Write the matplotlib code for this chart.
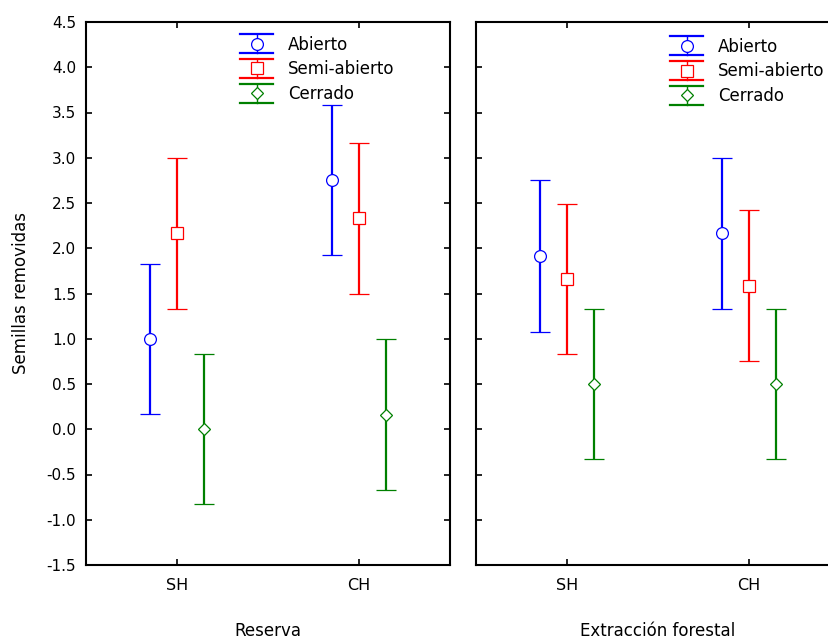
import matplotlib
matplotlib.use("Agg")
import matplotlib.pyplot as plt
from matplotlib.lines import Line2D
from matplotlib.legend_handler import HandlerBase

plt.rcParams['font.family'] = ['DejaVu Sans']

categories = ["SH", "CH"]
groups = ["Abierto", "Semi-abierto", "Cerrado"]
panels = ["Reserva", "Extracción forestal"]

# means and CI limits, per panel, per group, [SH, CH]
means = {
    "Reserva": {"Abierto": [1.0, 2.75], "Semi-abierto": [2.17, 2.33], "Cerrado": [0.0, 0.16]},
    "Extracción forestal": {"Abierto": [1.91, 2.17], "Semi-abierto": [1.66, 1.58], "Cerrado": [0.5, 0.5]},
}
lower = {
    "Reserva": {"Abierto": [0.17, 1.92], "Semi-abierto": [1.33, 1.5], "Cerrado": [-0.83, -0.67]},
    "Extracción forestal": {"Abierto": [1.08, 1.33], "Semi-abierto": [0.83, 0.75], "Cerrado": [-0.33, -0.33]},
}
upper = {
    "Reserva": {"Abierto": [1.83, 3.58], "Semi-abierto": [3.0, 3.16], "Cerrado": [0.83, 1.0]},
    "Extracción forestal": {"Abierto": [2.75, 3.0], "Semi-abierto": [2.49, 2.42], "Cerrado": [1.33, 1.33]},
}
yticks = [-1.5, -1.0, -0.5, 0.0, 0.5, 1.0, 1.5, 2.0, 2.5, 3.0, 3.5, 4.0, 4.5]

colors = {"Abierto": "#0000ff", "Semi-abierto": "#ff0000", "Cerrado": "#008000"}
markers = {"Abierto": "o", "Semi-abierto": "s", "Cerrado": "D"}
msizes = {"Abierto": 8.5, "Semi-abierto": 8.0, "Cerrado": 6.5}
offsets = {"Abierto": -0.15, "Semi-abierto": 0.0, "Cerrado": 0.15}


class ErrHandler(HandlerBase):
    # legend entry: wide caps, thin stem, open marker
    def create_artists(self, legend, orig_handle, xdescent, ydescent,
                       width, height, fontsize, trans):
        c = orig_handle.get_color()
        cy = height / 2 - ydescent
        x0 = -xdescent
        x1 = x0 + width
        xc = (x0 + x1) / 2
        half = 6.8
        arts = [
            Line2D([x0, x1], [cy + half, cy + half], color=c, lw=1.6),
            Line2D([x0, x1], [cy - half, cy - half], color=c, lw=1.6),
            Line2D([xc, xc], [cy - half, cy + half], color=c, lw=1.0),
            Line2D([xc], [cy], marker=orig_handle.get_marker(), ls='none',
                   ms=orig_handle.get_markersize(), mfc='white', mec=c, mew=0.9),
        ]
        for a in arts:
            a.set_transform(trans)
        return arts


fig = plt.figure(figsize=(8.29, 6.41), dpi=100)
ax1 = fig.add_axes([86 / 829, 76 / 641, 364 / 829, 543 / 641])
ax2 = fig.add_axes([476 / 829, 76 / 641, 364 / 829, 543 / 641])

xpos = [0, 1]
for ax, panel in zip([ax1, ax2], panels):
    for g in groups:
        m = means[panel][g]
        lo = lower[panel][g]
        hi = upper[panel][g]
        xs = [x + offsets[g] for x in xpos]
        err = [[m[i] - lo[i] for i in range(2)], [hi[i] - m[i] for i in range(2)]]
        ax.errorbar(xs, m, yerr=err, fmt=markers[g], color=colors[g],
                    mfc='white', mec=colors[g], ms=msizes[g], mew=0.9,
                    elinewidth=1.6, capsize=7, capthick=1.6)

    ax.set_xlim(-0.5, 1.5)
    ax.set_ylim(-1.5, 4.5)
    ax.set_xticks(xpos)
    ax.set_xticklabels(categories)
    ax.set_yticks(yticks)
    ax.set_yticklabels([f"{v:.1f}" for v in yticks])
    ax.tick_params(direction='in', length=4, width=1.2, top=True, right=True,
                   labelsize=11)
    ax.tick_params(axis='x', pad=9, labelsize=11.5)
    ax.tick_params(axis='y', pad=7)
    for s in ax.spines.values():
        s.set_linewidth(1.5)
    ax.set_xlabel(panel, fontsize=12)
    ax.xaxis.set_label_coords(0.5, -0.105)

    proxies = [Line2D([], [], color=colors[g], marker=markers[g], ms=msizes[g]) for g in groups]
    ax.legend(proxies, groups, handler_map={Line2D: ErrHandler()}, frameon=False,
              fontsize=12, handlelength=2.0, handletextpad=0.9, labelspacing=0.4,
              borderpad=0, borderaxespad=0, loc='upper left')

ax1.get_legend().set_bbox_to_anchor((0.423, 0.975), transform=ax1.transAxes)
ax2.get_legend().set_bbox_to_anchor((0.533, 0.971), transform=ax2.transAxes)

ax2.tick_params(axis='y', labelleft=False)
ax1.set_ylabel("Semillas removidas", fontsize=12)
ax1.yaxis.set_label_coords(-0.155, 0.5)

fig.savefig("out.png", dpi=100)
